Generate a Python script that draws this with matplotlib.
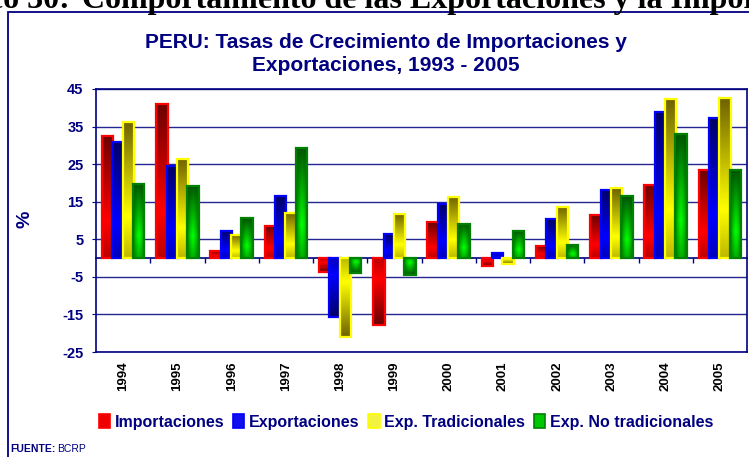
import matplotlib
matplotlib.use('Agg')
import matplotlib.pyplot as plt
import numpy as np
from matplotlib.patches import Patch, Rectangle

# Data (annual growth rates, %)
years = ['1994', '1995', '1996', '1997', '1998', '1999',
         '2000', '2001', '2002', '2003', '2004', '2005']
importaciones = [32.5, 41.0, 2.0, 8.6, -3.6, -17.8, 9.5, -2.0, 3.3, 11.5, 19.4, 23.4]
exportaciones = [31.0, 24.4, 7.2, 16.4, -15.8, 6.3, 14.5, 1.4, 10.3, 18.1, 39.0, 37.2]
exp_tradicionales = [36.3, 26.5, 6.2, 12.0, -20.9, 11.8, 16.3, -1.6, 13.7, 18.6, 42.3, 42.6]
exp_no_tradicionales = [19.7, 19.3, 10.6, 29.3, -4.0, -4.6, 9.2, 7.2, 3.6, 16.4, 32.9, 23.4]
yticks = [45, 35, 25, 15, 5, -5, -15, -25]

NAVY = '#000080'
series = [
    ('Importaciones', importaciones, '#FF0000', '#6a0000', '#ff0000', '#ee0000'),
    ('Exportaciones', exportaciones, '#0000FF', '#000066', '#0000ff', '#1010ee'),
    ('Exp. Tradicionales', exp_tradicionales, '#FFFF00', '#6e6200', '#ffff00', '#f2f240'),
    ('Exp. No tradicionales', exp_no_tradicionales, '#008000', '#005500', '#00ff00', '#00c800'),
]

plt.rcParams['font.family'] = ['Liberation Sans', 'DejaVu Sans']


def to_rgb(c):
    return np.array(matplotlib.colors.to_rgb(c))


def shade_bar(ax, rect, dark, bright, horiz=False):
    """Fill a bar with a dark-bright-dark gradient, clipped to the bar."""
    x, y = rect.get_x(), rect.get_y()
    w, h = rect.get_width(), rect.get_height()
    s = np.linspace(0, 1, 80)  # 0 = base, 1 = tip
    # bright around 30% from base, dark at the tip
    prof = np.interp(s, [0, 0.3, 1.0], [0.55, 1.0, 0.0])
    d, b = to_rgb(dark), to_rgb(bright)
    img = d[None, None, :] + (b - d)[None, None, :] * prof[:, None, None]
    img = np.repeat(img, 20, axis=1)
    if horiz:
        u = np.linspace(-1, 1, 20)
        hp = 1 - 0.75 * np.abs(u) ** 1.5
        img = d + (img - d) * hp[None, :, None]
    im = ax.imshow(np.clip(img, 0, 1), extent=[x, x + w, y, y + h], origin='lower',
                   aspect='auto', interpolation='bilinear', zorder=rect.get_zorder() - 0.05)
    im.set_clip_path(rect)


fig = plt.figure(figsize=(7.49, 4.57), dpi=100)
ax = fig.add_axes([96 / 749, 1 - 352 / 457, 651 / 749, 263 / 457])

x = np.arange(len(years))
step = 0.19
width = 0.21
for i, (name, vals, edge, dark, bright, _) in enumerate(series):
    bars = ax.bar(x + (i - 1.5) * step, vals, width, facecolor='none',
                  edgecolor=edge, linewidth=1.6, zorder=3 + i)
    for r in bars:
        shade_bar(ax, r, dark, bright, horiz=(i == 3))

ax.set_xlim(-0.5, len(years) - 0.5)
ax.set_ylim(-25, 45)

# axes styling
ax.set_yticks(yticks)
ax.set_yticklabels([str(v) for v in yticks], fontsize=10.5, fontweight='bold', color=NAVY)
ax.yaxis.grid(True, color=NAVY, linewidth=1.0, alpha=0.85)
ax.set_axisbelow(True)
ax.tick_params(axis='y', direction='out', length=3, color=NAVY, pad=6)
ax.set_xticks(x)
ax.set_xticklabels(years, rotation=90, fontsize=9.5, fontweight='bold', color='#000000')
ax.tick_params(axis='x', length=0, pad=7)
for sp in ax.spines.values():
    sp.set_color(NAVY)
    sp.set_linewidth(1.2)

# zero line with category separator ticks
sec = ax.secondary_xaxis(25 / 70)
sec.set_xticks(np.arange(0.5, len(years) - 0.5, 1.0))
sec.set_xticklabels([])
sec.tick_params(direction='out', length=3.5, color=NAVY, width=1)
sec.spines['bottom'].set_color(NAVY)
sec.spines['bottom'].set_linewidth(1.2)

fig.text(25 / 749, 1 - 219 / 457, '%', rotation=90, fontsize=14, fontweight='bold',
         color=NAVY, ha='center', va='center')

# titles
fig.text(386 / 749, 1 - 54 / 457, 'PERU: Tasas de Crecimiento de Importaciones y\nExportaciones, 1993 - 2005',
         ha='center', va='center', fontsize=15, fontweight='bold', color=NAVY, linespacing=1.3)

# chart frame (cut by the image edges)
fig.add_artist(Rectangle((8 / 749, -0.1), 1.2, 1 - 12 / 457 + 0.1, transform=fig.transFigure,
                         fill=False, edgecolor=NAVY, linewidth=1.3))

# partial page heading above the chart
fig.text(70 / 749, 1 - 8 / 457, 'Gráfico 30:', ha='right', va='baseline',
         family='Liberation Serif', fontweight='bold', fontsize=23, color='black')
fig.text(82 / 749, 1 - 8 / 457, 'Comportamiento de las Exportaciones y la Importaciones',
         ha='left', va='baseline', family='Liberation Serif', fontweight='bold',
         fontsize=23, color='black')

# legend
handles = [Patch(facecolor=fill, edgecolor=edge, linewidth=1.2, label=name)
           for name, _, edge, _, _, fill in series]
fig.legend(handles=handles, loc='center', bbox_to_anchor=(406 / 749, 1 - 422 / 457), ncol=4,
           frameon=False, handlelength=0.7, handleheight=0.9, handletextpad=0.3,
           columnspacing=0.55, prop={'weight': 'bold', 'size': 11.5}, labelcolor=NAVY)

src = fig.text(10 / 749, 1 - 452 / 457, 'FUENTE:', fontsize=7.5, fontweight='bold', color=NAVY,
               ha='left', va='baseline')
fig.canvas.draw()
bb = src.get_window_extent()
fig.text((bb.x1 + 2) / 749, 1 - 452 / 457, 'BCRP', fontsize=7.5, color=NAVY,
         ha='left', va='baseline')

fig.savefig('out.png', dpi=100)
